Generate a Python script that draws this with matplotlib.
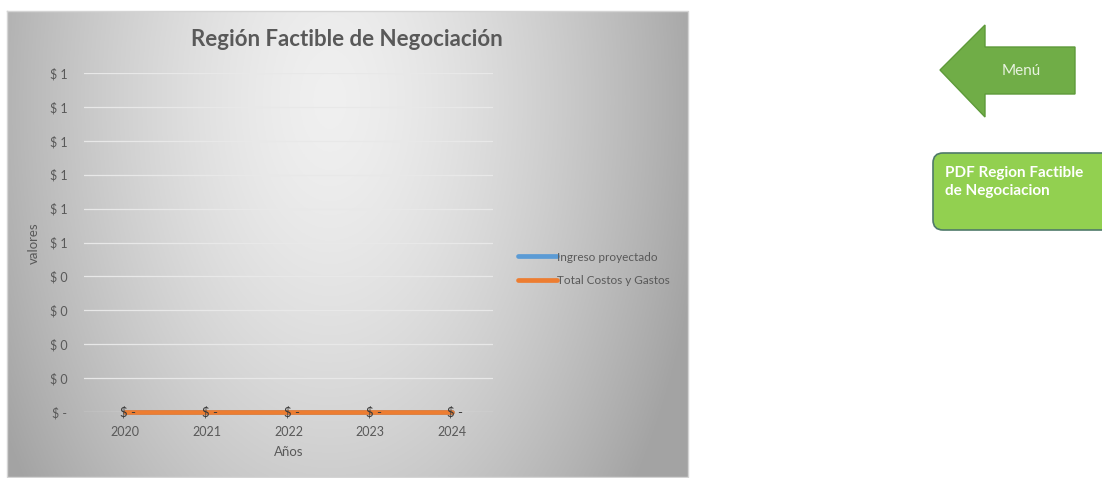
import numpy as np
import matplotlib.pyplot as plt
from matplotlib.patches import Polygon, FancyBboxPatch
from matplotlib.ticker import FuncFormatter

plt.rcParams['font.family'] = ['Lato', 'DejaVu Sans']

# datos ------------------------------------
anios = ['2020', '2021', '2022', '2023', '2024']
ingreso = [0, 0, 0, 0, 0]
costos = [0, 0, 0, 0, 0]
y_ticks = [0.0, 0.1, 0.2, 0.3, 0.4, 0.5, 0.6, 0.7, 0.8, 0.9, 1.0]
titulo = 'Región Factible de Negociación'

W, H = 1102, 478
fig = plt.figure(figsize=(W / 100, H / 100), dpi=100)
fig.patch.set_facecolor('white')

# fondo del grafico (degradado) ------------
bg = fig.add_axes([0, 0, 1, 1], zorder=0)
bg.set_xlim(0, W)
bg.set_ylim(H, 0)
bg.axis('off')
x0, x1, y0, y1 = 7, 688, 11, 477
gx, gy = np.meshgrid(np.linspace(x0, x1, 400), np.linspace(y0, y1, 300))
d = np.sqrt(((gx - 330) / 380) ** 2 + ((gy - 100) / 650) ** 2)
d = np.clip(d, 0, 1)
val = 0.94 - 0.30 * d ** 1.5
img = np.dstack([val, val, val])
bg.imshow(img, extent=[x0, x1, y1, y0], aspect='auto', zorder=0)
bg.plot([x0, x1, x1, x0, x0], [y0, y0, y1, y1, y0], color='#d4d4d4', lw=1, zorder=1)

# flecha "Menú" ----------------------------
arrow = Polygon([[940, 70], [985, 25], [985, 47], [1075, 47], [1075, 94],
                 [985, 94], [985, 117]], closed=True,
                facecolor='#70AD47', edgecolor='#5E9A3A', lw=1, zorder=2)
bg.add_patch(arrow)
bg.text(1021, 71, 'Menú', color='#E8F3E0', fontsize=11, ha='center', va='center', zorder=3)

# boton PDF --------------------------------
btn = FancyBboxPatch((933, 153), 200, 77, boxstyle='round,pad=0,rounding_size=10',
                     facecolor='#92D050', edgecolor='#4F7A6A', lw=1.2, zorder=2)
bg.add_patch(btn)
bg.text(945, 182, 'PDF Region Factible\nde Negociacion', color='white', fontsize=11,
        fontweight='bold', ha='left', va='center', linespacing=1.4, zorder=3)

# grafico de lineas ------------------------
ax = fig.add_axes([84 / W, 1 - 412 / H, 409 / W, 339 / H], zorder=1)
ax.patch.set_alpha(0)
x = np.arange(len(anios))
ax.plot(x, ingreso, color='#5B9BD5', lw=3.4, solid_capstyle='round', clip_on=False,
        label='Ingreso proyectado')
ax.plot(x, costos, color='#ED7D31', lw=3.4, solid_capstyle='round', clip_on=False,
        label='Total Costos y Gastos')
for xi, v in zip(x, costos):
    ax.text(xi + 0.04, v, '$ -', color='#3a3a3a', fontsize=9.5, ha='center', va='center')

ax.set_xlim(-0.5, len(anios) - 0.5)
ax.set_ylim(0, 1)
ax.set_yticks(y_ticks)
ax.yaxis.set_major_formatter(FuncFormatter(
    lambda v, p: '$ -' if abs(v) < 1e-9 else '$ %d' % int(np.floor(v + 0.5 + 1e-9))))
ax.set_xticks(x)
ax.set_xticklabels(anios)
ax.tick_params(axis='both', length=0, colors='#595959', labelsize=9)
ax.tick_params(axis='y', pad=12)
ax.tick_params(axis='x', pad=10)
for s in ax.spines.values():
    s.set_visible(False)
ax.grid(axis='y', color='#e8e8e8', lw=0.9)
ax.set_axisbelow(True)

ax.set_xlabel('Años', color='#595959', fontsize=9.5, labelpad=6)
ax.set_ylabel('valores', color='#595959', fontsize=9.5)
ax.yaxis.set_label_coords(40 / W, (H - 243) / H, transform=fig.transFigure)

fig.text(347 / W, 1 - 40 / H, titulo, fontsize=16, fontweight='bold',
         color='#595959', ha='center', va='center')

ax.legend(loc='center left', bbox_to_anchor=(507 / W, 1 - 269 / H), bbox_transform=fig.transFigure,
          frameon=False, handlelength=3.3, handletextpad=0.0, fontsize=8.5, labelcolor='#595959',
          labelspacing=1.1)

fig.savefig('out.png', dpi=100)
